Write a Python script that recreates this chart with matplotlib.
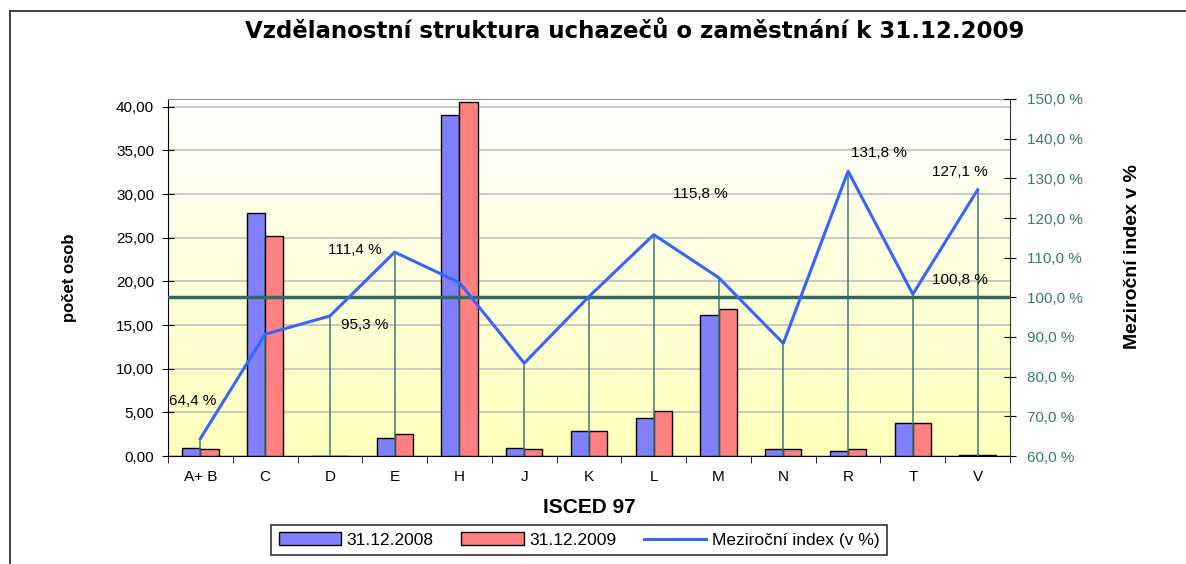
import numpy as np
import matplotlib
matplotlib.use('Agg')
import matplotlib.pyplot as plt
from matplotlib.lines import Line2D
from matplotlib.ticker import FuncFormatter

plt.rcParams['font.family'] = ['Liberation Sans', 'DejaVu Sans']

# data
categories = ['A+ B', 'C', 'D', 'E', 'H', 'J', 'K', 'L', 'M', 'N', 'R', 'T', 'V']
v2008 = [0.95, 27.8, 0.0, 2.1, 39.1, 0.95, 2.85, 4.3, 16.1, 0.75, 0.55, 3.8, 0.15]
v2009 = [0.75, 25.2, 0.0, 2.5, 40.5, 0.75, 2.85, 5.1, 16.8, 0.75, 0.75, 3.8, 0.15]
index = [64.4, 90.7, 95.3, 111.4, 103.7, 83.4, 100.2, 115.8, 105.0, 88.4, 131.8, 100.8, 127.1]
# which points carry a data label, and pixel offset of the label
labelled = {0: (-8, 38), 2: (35, -9), 3: (-40, 2), 7: (47, 41), 10: (31, 18), 11: (47, 14), 12: (-18, 18)}

left_ticks = [0, 5, 10, 15, 20, 25, 30, 35, 40]
right_ticks = [60, 70, 80, 90, 100, 110, 120, 130, 140, 150]

W, H = 1186, 564
fig = plt.figure(figsize=(W / 100, H / 100), dpi=100)
fig.patch.set_facecolor('white')

# chart border (left + top visible)
fig.add_artist(Line2D([10 / W, 10 / W], [0, 1 - 11 / H], color='#333333', lw=1.3))
fig.add_artist(Line2D([10 / W, 1], [1 - 11 / H, 1 - 11 / H], color='#333333', lw=1.3))

ax = fig.add_axes([168 / W, 1 - 456 / H, (1010 - 168) / W, (456 - 99) / H])
x = np.arange(len(categories))

# background gradient white -> pale yellow
grad = np.linspace(0, 1, 256).reshape(-1, 1)
cols = np.ones((256, 1, 3))
cols[:, 0, 2] = 1 - 0.27 * grad[:, 0]
ax.imshow(cols, extent=[0, 1, 0, 1], transform=ax.transAxes, aspect='auto',
          origin='upper', zorder=0)

for t in left_ticks:
    ax.axhline(t, color='#c0c0c0', lw=1.2, zorder=1)

bw = 0.28
ax.bar(x - bw / 2, v2008, bw, color='#8080ff', edgecolor='black', lw=1, zorder=3, label='31.12.2008')
ax.bar(x + bw / 2, v2009, bw, color='#ff8080', edgecolor='black', lw=1, zorder=3, label='31.12.2009')

ax.set_xlim(-0.5, len(categories) - 0.5)
ax.set_ylim(0, 40.9)
ax.set_yticks(left_ticks)
ax.yaxis.set_major_formatter(FuncFormatter(lambda v, p: f'{v:.2f}'.replace('.', ',')))
ax.set_xticks(x)
ax.set_xticklabels(categories, fontsize=11)
ax.set_xticks(np.arange(-0.5, len(categories)), minor=True)
ax.tick_params(axis='x', which='major', length=0, pad=10)
ax.tick_params(axis='x', which='minor', length=5, direction='out')
ax.tick_params(axis='y', direction='inout', length=8, labelsize=11, pad=6)
ax.set_ylabel('počet osob', fontsize=12, fontweight='bold', labelpad=28)
ax.set_xlabel('ISCED 97', fontsize=15, fontweight='bold', labelpad=10)
for s in ['left', 'bottom']:
    ax.spines[s].set_color('black')
ax.spines['top'].set_color('#909090')
ax.spines['right'].set_visible(False)

ax2 = ax.twinx()
ax2.patch.set_visible(False)
ax2.set_ylim(60, 150)
ax2.set_yticks(right_ticks)
ax2.yaxis.set_major_formatter(FuncFormatter(lambda v, p: f'{v:.1f} %'.replace('.', ',')))
ax2.tick_params(axis='y', direction='inout', length=8, labelsize=11, labelcolor='#3a7a74', pad=8)
ax2.vlines(x, 60, index, color='#3e7a6e', lw=1.1, zorder=2)
ax2.axhline(100, color='#2e6b62', lw=2.5, zorder=3)
ax2.plot(x, index, color='#3366ff', lw=2.2, zorder=4, label='Meziroční index (v %)')
for i, (dx, dy) in labelled.items():
    ax2.annotate(f'{index[i]:.1f} %'.replace('.', ','), (x[i], index[i]), xytext=(dx, dy),
                 textcoords='offset pixels', ha='center', va='center', fontsize=11)
ax2.set_ylabel('Meziroční index v %', fontsize=14, fontweight='bold')
ax2.yaxis.set_label_coords(1.135, 0.56)
for s in ['left', 'top', 'bottom']:
    ax2.spines[s].set_visible(False)
ax2.spines['right'].set_color('#333333')

fig.text(635 / W, 1 - 32 / H, 'Vzdělanostní struktura uchazečů o zaměstnání k 31.12.2009',
         ha='center', va='center', fontsize=16.5, fontweight='bold', family='DejaVu Sans')

h1, l1 = ax.get_legend_handles_labels()
h2, l2 = ax2.get_legend_handles_labels()
leg = fig.legend(h1 + h2, l1 + l2, loc='center', bbox_to_anchor=(579 / W, 1 - 540 / H),
                 ncol=3, fontsize=12.5, frameon=True, fancybox=False, edgecolor='black',
                 handlelength=3.6, columnspacing=1.6, handletextpad=0.3, borderpad=0.45)
leg.get_frame().set_linewidth(1.2)

fig.savefig('out.png', dpi=100)
